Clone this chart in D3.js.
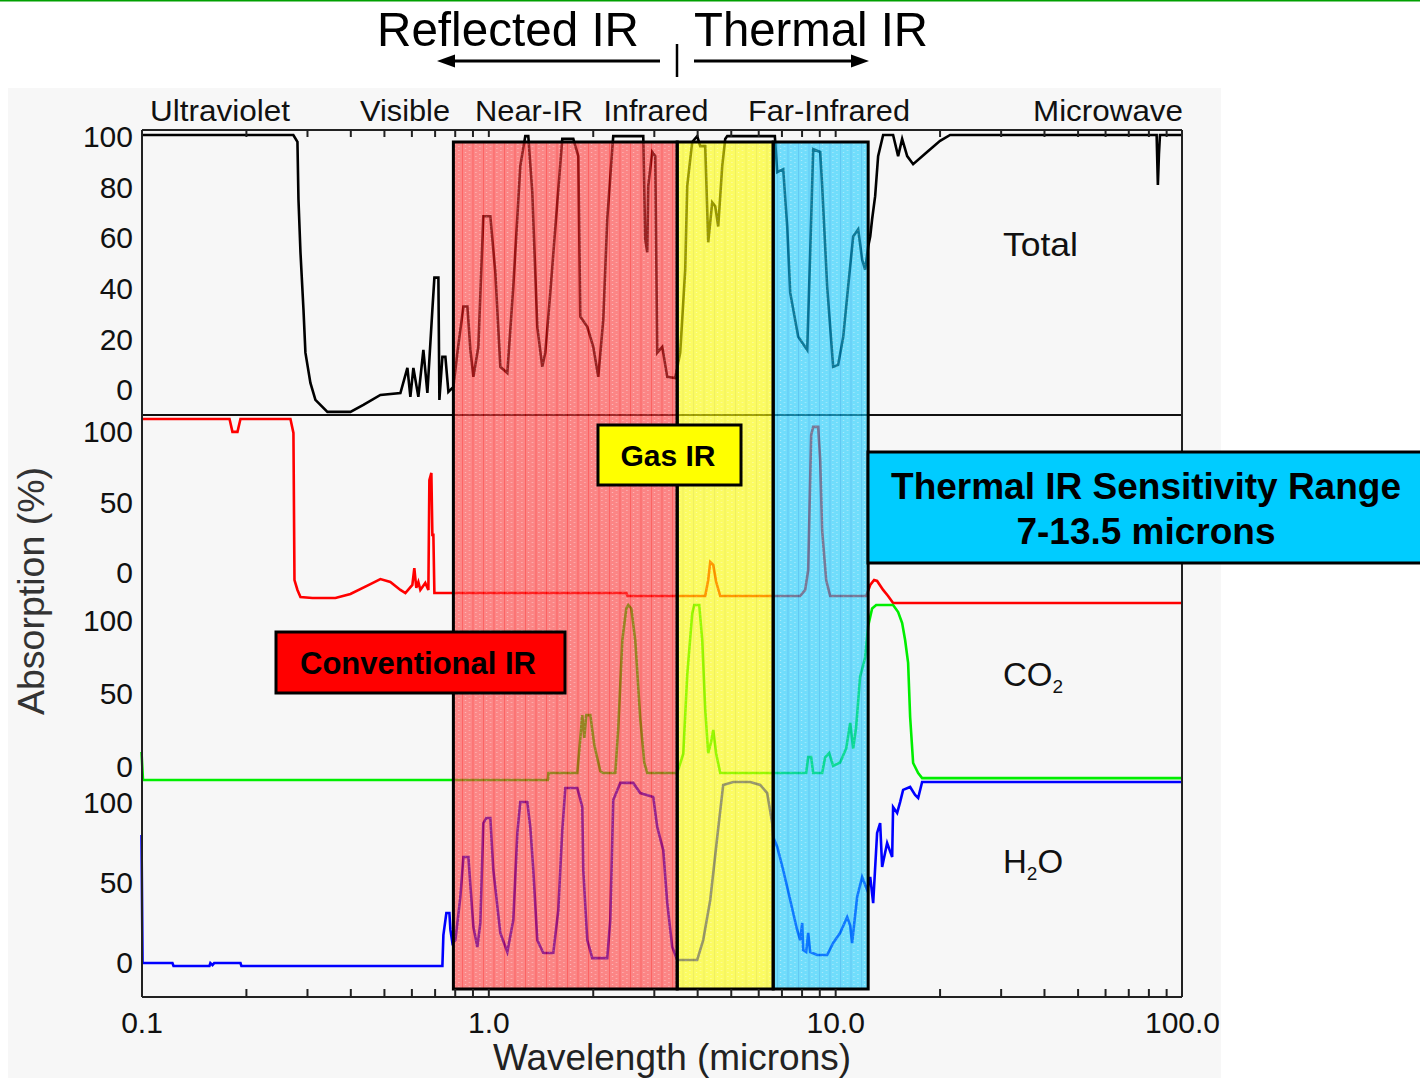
<!DOCTYPE html>
<html><head><meta charset="utf-8">
<script src="https://cdn.jsdelivr.net/npm/d3@7"></script>
<style>
html,body{margin:0;padding:0;background:#fff;}
svg{display:block;}
text{font-family:"Liberation Sans",Arial,Helvetica,sans-serif;}
</style></head><body>
<svg id="chart" width="1420" height="1078"></svg>
<script>
// ---------------- DATA ----------------
const xTickLabels = [0.1, 1, 10, 100];
const minorTicks = [0.2,0.3,0.4,0.5,0.6,0.7,0.8,0.9,1,2,3,4,5,6,7,8,9,10,20,30,40,50,60,70,80,90];
const totalTicks = [0,20,40,60,80,100];
const gasTicks = [0,50,100];
const bandNames = ["Ultraviolet","Visible","Near-IR","Infrared","Far-Infrared","Microwave"];
const regionBounds = [0.793, 3.504, 6.627, 12.45];   // microns: Conventional | Gas | Thermal
const regionNames = ["Conventional IR","Gas IR","Thermal IR Sensitivity Range"];

// [wavelength (microns), absorption (%)]
const totalAbs = [[0.1,100],[0.274,100],[0.2816,97.5],[0.2835,76.9],[0.2873,57.8],[0.2931,37.2],[0.2969,21.7],[0.3069,10.8],[0.3173,4.7],[0.3436,0.4],[0.4004,0.4],[0.4362,2.9],[0.4884,6.5],[0.5578,7.2],[0.5843,16.2],[0.596,5.8],[0.608,16.2],[0.6284,5.8],[0.6497,22.7],[0.6672,7.2],[0.6897,37.2],[0.699,48.7],[0.7178,48.7],[0.7226,4.7],[0.7371,20.2],[0.7519,20.2],[0.7671,7.6],[0.793,9.4],[0.8143,21.7],[0.8474,38.3],[0.8702,38.3],[0.8877,22.7],[0.9056,13.0],[0.9359,23.8],[0.9674,70.8],[1.0134,70.8],[1.0476,50.5],[1.0829,16.6],[1.1344,14.4],[1.1803,45.5],[1.2364,88.8],[1.2781,99.6],[1.3038,99.6],[1.3389,79.4],[1.384,31.0],[1.4307,16.6],[1.4597,21.7],[1.5089,43.3],[1.5806,75.8],[1.634,98.6],[1.7579,98.6],[1.8172,92.4],[1.8412,34.7],[1.9288,31.0],[2.0071,23.8],[2.0749,13.0],[2.1448,33.6],[2.2024,69.7],[2.2766,94.9],[2.2919,99.6],[2.797,99.6],[2.8339,62.5],[2.872,57.8],[2.8913,81.6],[2.969,93.9],[3.029,92.4],[3.069,21.7],[3.1726,23.8],[3.28,13.0],[3.458,12.6],[3.5748,21.7],[3.6954,51.6],[3.7447,81.6],[3.871,97.5],[4.0016,99.6],[4.0827,96.0],[4.2206,96.0],[4.3053,61.4],[4.4208,75.8],[4.5101,74.4],[4.6005,67.1],[4.7247,88.8],[4.8194,98.6],[4.884,99.6],[6.7,99.6],[6.8076,86.6],[7.0824,87.7],[7.273,67.1],[7.4193,43.3],[7.8242,27.4],[8.3061,22.7],[8.473,57.8],[8.6424,94.9],[9.0536,93.9],[9.1736,81.6],[9.4831,45.5],[9.8664,16.6],[10.2,17.3],[10.55,27.4],[10.9,45.5],[11.27,63.5],[11.65,66.1],[11.96,55.2],[12.2,51.6],[12.45,59.9],[12.62,63.5],[12.78,69.7],[13.04,78.0],[13.3,92.4],[13.75,100],[14.69,100],[15.19,92.4],[15.6,98.6],[16.13,92.4],[16.78,89.5],[18.41,93.9],[20.07,97.9],[21.45,100],[84.5,100],[85.2,82],[85.8,93],[86.4,100],[100,100]];

const ozoneAbs = [[0.1,100],[0.1794,100],[0.1829,93],[0.1891,93],[0.1929,100],[0.2688,100],[0.2742,92.4],[0.2761,12.5],[0.2816,7.1],[0.2873,3.3],[0.3111,2.7],[0.3623,2.7],[0.4004,4.9],[0.4571,10.3],[0.4884,13.0],[0.5218,11.4],[0.5578,7.1],[0.5765,5.4],[0.6039,9.8],[0.6118,19.0],[0.6199,8.2],[0.6284,11.4],[0.6368,7.1],[0.658,10.9],[0.6716,7.1],[0.6761,66.8],[0.6851,70.7],[0.6897,37.0],[0.6943,37.0],[0.699,5.4],[2.5,5.4],[2.52,3.8],[4.22,3.8],[4.305,12.5],[4.3635,22.3],[4.4508,20.7],[4.5394,11.4],[4.6627,3.8],[7.928,3.8],[8.195,7.1],[8.36,17.9],[8.527,91.3],[8.6424,95.7],[8.933,95.7],[9.0536,77.7],[9.17,39.7],[9.42,12.5],[9.674,3.8],[12.29,3.8],[12.62,9.8],[12.95,12.5],[13.21,12.0],[13.75,7.1],[14.21,3.8],[14.69,0],[100,0]];

const co2Abs = [[0.1,16],[0.101,0],[1.485,0],[1.49,4],[1.805,4],[1.866,37.1],[1.891,24],[1.916,37.1],[1.968,37.1],[2.021,20],[2.103,5],[2.145,4],[2.323,4],[2.37,30],[2.434,80],[2.499,98],[2.532,100],[2.583,98],[2.652,80],[2.742,35],[2.816,10],[2.872,4],[3.504,4],[3.648,15],[3.745,60],[3.871,95],[3.923,100],[4.056,100],[4.137,80],[4.221,40],[4.305,15.4],[4.392,22],[4.451,28.6],[4.539,15],[4.663,4],[8.25,4],[8.36,13.1],[8.527,13.1],[8.642,4],[9.174,4],[9.358,13],[9.61,15.4],[9.866,8],[10.33,10],[10.76,18],[11.05,32.6],[11.27,18],[11.49,30],[11.80,58.9],[12.20,70],[12.45,88],[12.78,98],[13.13,100],[14.69,100],[15.19,96],[15.60,89.7],[15.91,80],[16.23,66.9],[16.45,36],[16.78,9.7],[17.35,4],[17.81,1.1],[100,1.1]];

const h2oAbs = [[0.1,71.2],[0.1007,1.6],[0.1228,1.6],[0.1237,0],[0.157,0],[0.158,1.6],[0.1602,0.5],[0.162,1.6],[0.1929,1.6],[0.1941,0],[0.7371,0],[0.742,16.8],[0.7568,28.8],[0.7722,28.8],[0.7774,19.6],[0.7879,12.5],[0.8035,14.1],[0.8306,37.5],[0.8474,59.2],[0.876,59.2],[0.8877,44],[0.9056,21.2],[0.9296,10.3],[0.9484,23.4],[0.9674,77.7],[0.9868,80.4],[1.0134,80.4],[1.0337,52.2],[1.0829,17.9],[1.1344,7.6],[1.1803,25],[1.2122,72.3],[1.2364,89.1],[1.2952,89.1],[1.3213,75.5],[1.3479,52.2],[1.384,14.1],[1.4403,7.1],[1.5392,7.1],[1.5911,30.4],[1.634,73.9],[1.6672,96.7],[1.805,96.7],[1.866,86.4],[1.878,52.2],[1.9288,14.1],[1.9937,4.3],[2.2024,4.3],[2.2468,25],[2.2919,90.2],[2.4014,99.5],[2.6171,99.5],[2.742,94],[2.9889,91.8],[3.069,75.5],[3.1939,63],[3.28,34.2],[3.3904,10.3],[3.504,3.3],[4.0016,3.3],[4.1647,14.1],[4.3635,35.9],[4.5709,70.1],[4.7552,98.4],[5.0816,100],[5.6885,100],[6.0786,98.4],[6.368,94],[6.5826,77.7],[6.6267,70.1],[6.8076,64.7],[7.0824,52.2],[7.4193,35.9],[7.7697,19.6],[7.928,14],[8.035,23.4],[8.089,8.7],[8.25,7.6],[8.36,18],[8.473,7.6],[8.8742,6],[9.4831,6],[9.8664,12.5],[10.33,17.9],[10.83,26.6],[11.05,22],[11.19,12.5],[11.57,37.5],[11.96,48.4],[12.37,41.3],[12.62,48.4],[12.87,34.2],[13.21,72.3],[13.48,77.7],[13.66,53.8],[14.12,66.8],[14.6,59.2],[14.69,86.4],[15.09,83.2],[15.39,89.1],[15.7,95.7],[16.45,97.3],[17.0,93],[17.35,91.3],[17.81,100],[100,100]];

// ---------------- LAYOUT ----------------
const W = 1420, H = 1078;
const PL = 142, PR = 1182, PT = 130, PB = 997;
const svg = d3.select("#chart");
const FONT = '"Liberation Sans",Arial,Helvetica,sans-serif';

const x = d3.scaleLog().domain([0.1,100]).range([141.5, 1182]);

const panels = [
  {data: totalAbs, color:"#000000", y: d3.scaleLinear().domain([0,100]).range([413,135]), lab: d3.scaleLinear().domain([0,100]).range([390,137]), ticks: totalTicks},
  {data: ozoneAbs, color:"#ff0000", y: d3.scaleLinear().domain([0,100]).range([603,419]), lab: d3.scaleLinear().domain([0,100]).range([573,432]), ticks: gasTicks},
  {data: co2Abs,   color:"#00ee00", y: d3.scaleLinear().domain([0,100]).range([780,605]), lab: d3.scaleLinear().domain([0,100]).range([767,621]), ticks: gasTicks},
  {data: h2oAbs,   color:"#0000ff", y: d3.scaleLinear().domain([0,100]).range([966,782]), lab: d3.scaleLinear().domain([0,100]).range([963,803]), ticks: gasTicks}
];

// background
svg.append("rect").attr("width",W).attr("height",H).attr("fill","#ffffff");
svg.append("rect").attr("x",0).attr("y",0).attr("width",W).attr("height",1.5).attr("fill","#00a000");
svg.append("rect").attr("x",8).attr("y",88).attr("width",1213).attr("height",H-88).attr("fill","#f7f7f7");

// patterns
const defs = svg.append("defs");
function makePattern(id, base, line){
  const p = defs.append("pattern").attr("id",id).attr("patternUnits","userSpaceOnUse")
    .attr("width",10.5).attr("height",4).attr("x",0).attr("y",0);
  p.append("rect").attr("width",10.5).attr("height",4).attr("fill",base);
  p.append("rect").attr("x",0).attr("width",1).attr("height",4).attr("fill",line);
  p.append("rect").attr("x",3).attr("y",0).attr("width",1).attr("height",1).attr("fill","#ffffff").attr("opacity",0.55);
  p.append("rect").attr("x",7).attr("y",2).attr("width",1).attr("height",1).attr("fill","#ffffff").attr("opacity",0.55);
}
makePattern("patRed","#ff3b3b","#ff0000");
makePattern("patYel","#ffff00","#e8e800");
makePattern("patBlu","#18ccff","#00a8f0");
const regionFills = ["url(#patRed)","url(#patYel)","url(#patBlu)"];

// curves
const line = (p) => d3.line().x(d => x(d[0])).y(d => p.y(d[1]));
panels.forEach(p => {
  svg.append("path").datum(p.data).attr("d", line(p)).attr("fill","none")
    .attr("stroke", p.color).attr("stroke-width", 2.6).attr("stroke-linejoin","miter");
});

// divider between total panel and gas panels
svg.append("line").attr("x1",PL).attr("x2",PR).attr("y1",415).attr("y2",415)
  .attr("stroke","#111").attr("stroke-width",2);

// shaded regions
const RT = 142, RB = 989;
const regions = d3.range(3).map(i => ({a: regionBounds[i], b: regionBounds[i+1], fill: regionFills[i]}));
svg.append("g").attr("opacity",0.6).selectAll("rect").data(regions).join("rect")
  .attr("x", d => x(d.a)).attr("y",RT).attr("width", d => x(d.b)-x(d.a)).attr("height",RB-RT)
  .attr("fill", d => d.fill);
svg.append("g").selectAll("rect").data(regions).join("rect")
  .attr("x", d => x(d.a)).attr("y",RT).attr("width", d => x(d.b)-x(d.a)).attr("height",RB-RT)
  .attr("fill","none").attr("stroke","#000").attr("stroke-width",3);

// frame
const frame = svg.append("g").attr("stroke","#222").attr("stroke-width",2);
frame.append("line").attr("x1",PL).attr("x2",PR).attr("y1",PT).attr("y2",PT);
frame.append("line").attr("x1",PL).attr("x2",PR).attr("y1",PB).attr("y2",PB);
frame.append("line").attr("x1",PL).attr("x2",PL).attr("y1",PT).attr("y2",PB);
frame.append("line").attr("x1",PR).attr("x2",PR).attr("y1",PT).attr("y2",PB);

// top & bottom minor ticks
const topAx = svg.append("g").attr("transform",`translate(0,${PT})`)
  .call(d3.axisBottom(x).tickValues(minorTicks).tickSize(7).tickFormat(""));
topAx.select(".domain").remove();
topAx.selectAll("line").attr("stroke","#222").attr("stroke-width",2);
const botAx = svg.append("g").attr("transform",`translate(0,${PB})`)
  .call(d3.axisTop(x).tickValues(minorTicks).tickSize(8).tickFormat(""));
botAx.select(".domain").remove();
botAx.selectAll("line").attr("stroke","#222").attr("stroke-width",2);

// x labels
const xLab = svg.append("g").attr("transform",`translate(0,${PB})`)
  .call(d3.axisBottom(x).tickValues(xTickLabels).tickSize(0).tickPadding(15).tickFormat(d3.format(".1f")));
xLab.select(".domain").remove();
xLab.selectAll("text").attr("font-size",30).attr("font-family",FONT).attr("fill","#111");

svg.append("text").attr("x",672).attr("y",1070).attr("text-anchor","middle")
  .attr("font-size",37).attr("fill","#222").attr("textLength",358).attr("lengthAdjust","spacingAndGlyphs")
  .text("Wavelength (microns)");

// y labels per panel
panels.forEach(p => {
  const g = svg.append("g").attr("transform",`translate(${PL},0)`)
    .call(d3.axisLeft(p.lab).tickValues(p.ticks).tickSize(0).tickPadding(9).tickFormat(d3.format("d")));
  g.select(".domain").remove();
  g.selectAll("text").attr("font-size",30).attr("font-family",FONT).attr("fill","#111");
});
svg.append("text").attr("transform","translate(44,591) rotate(-90)").attr("text-anchor","middle")
  .attr("font-size",37).attr("fill","#333").attr("textLength",248).attr("lengthAdjust","spacingAndGlyphs")
  .text("Absorption (%)");

// band names
const bandPos = [[220,140],[405,90],[529,108],[656,105],[829,162],[1108,150]];
svg.append("g").selectAll("text").data(bandNames).join("text")
  .attr("x",(d,i)=>bandPos[i][0]).attr("y",121).attr("text-anchor","middle")
  .attr("font-size",30).attr("fill","#111")
  .attr("textLength",(d,i)=>bandPos[i][1]).attr("lengthAdjust","spacingAndGlyphs")
  .text(d=>d);

// panel names
svg.append("text").attr("x",1003).attr("y",256).attr("font-size",33).attr("fill","#111")
  .attr("textLength",75).attr("lengthAdjust","spacingAndGlyphs").text("Total");
const co2t = svg.append("text").attr("x",1003).attr("y",686).attr("font-size",33).attr("fill","#111");
co2t.append("tspan").text("CO");
co2t.append("tspan").attr("font-size",19).attr("dy",7).text("2");
const h2ot = svg.append("text").attr("x",1003).attr("y",873).attr("font-size",33).attr("fill","#111");
h2ot.append("tspan").text("H");
h2ot.append("tspan").attr("font-size",19).attr("dy",7).text("2");
h2ot.append("tspan").attr("dy",-7).text("O");

// header: Reflected / Thermal IR
svg.append("text").attr("x",377).attr("y",46).attr("font-size",49).attr("fill","#000")
  .attr("textLength",262).attr("lengthAdjust","spacingAndGlyphs").text("Reflected IR");
svg.append("text").attr("x",694).attr("y",46).attr("font-size",49).attr("fill","#000")
  .attr("textLength",234).attr("lengthAdjust","spacingAndGlyphs").text("Thermal IR");
const arr = svg.append("g");
arr.append("line").attr("x1",660).attr("x2",452).attr("y1",61).attr("y2",61).attr("stroke","#000").attr("stroke-width",3);
arr.append("polygon").attr("points","437,61 455,54.5 455,67.5").attr("fill","#000");
arr.append("line").attr("x1",694).attr("x2",853).attr("y1",61).attr("y2",61).attr("stroke","#000").attr("stroke-width",3);
arr.append("polygon").attr("points","869,61 851,54.5 851,67.5").attr("fill","#000");
arr.append("line").attr("x1",677).attr("x2",677).attr("y1",44).attr("y2",77).attr("stroke","#000").attr("stroke-width",2.5);

// annotation boxes
function box(x0,y0,w,h,fill,lines,fs,baselines,cx){
  svg.append("rect").attr("x",x0).attr("y",y0).attr("width",w).attr("height",h)
    .attr("fill",fill).attr("stroke","#000").attr("stroke-width",3);
  lines.forEach((t,i)=>{
    svg.append("text").attr("x",cx).attr("y",baselines[i]).attr("text-anchor","middle")
      .attr("font-size",fs).attr("font-weight","bold").attr("fill","#000").text(t);
  });
}
box(598,425,143,60,"#ffff00",[regionNames[1]],30,[466],668);
box(276,632,289,61,"#ff0000",[regionNames[0]],31,[674],418);
box(868,452,560,111,"#00ccff",[regionNames[2],"7-13.5 microns"],37,[499,544],1146);
</script>
</body></html>
